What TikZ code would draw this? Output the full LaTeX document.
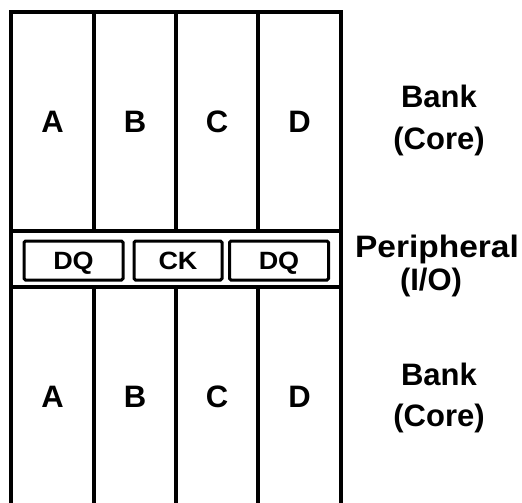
\documentclass[tikz,border=0pt]{standalone}
\usepackage{graphicx}
\usepackage{fontspec}
\setmainfont{Liberation Sans}
\begin{document}
\begin{tikzpicture}[x=1pt,y=-1pt,
  wall/.style={line width=4.5pt, line join=miter},
  padbox/.style={draw, line width=3pt, rounded corners=1.5pt, minimum width=99pt, minimum height=39pt, inner sep=0pt,
    text height=18pt, text depth=0pt, font=\fontsize{25}{30}\selectfont\bfseries},
  colletter/.style={anchor=base, inner sep=0pt, font=\fontsize{31}{36}\selectfont\bfseries},
  sidelabel/.style={anchor=base, inner sep=0pt, font=\fontsize{31}{36}\selectfont\bfseries}]
  \useasboundingbox (0,0) rectangle (522,503);

  % column edges and band edges
  \coordinate (tl) at (11,12);
  \coordinate (tr) at (341,12);
  \coordinate (bl) at (11,503);
  \coordinate (br) at (341,503);
  \draw[wall] (bl) -- (tl) -- (tr) -- (br);
  \foreach \x in {94,176,258} {
    \draw[wall] (\x,12) -- (\x,231);
    \draw[wall] (\x,287) -- (\x,503);
  }
  \draw[wall] (11,231) -- (341,231);
  \draw[wall] (11,287) -- (341,287);

  % bank columns
  \node[colletter] (a1) at (52.5,132) {A};
  \node[colletter] (b1) at (135,132) {B};
  \node[colletter] (c1) at (217,132) {C};
  \node[colletter] (d1) at (299.5,132) {D};
  \node[colletter] (a2) at (52.5,407) {A};
  \node[colletter] (b2) at (135,407) {B};
  \node[colletter] (c2) at (217,407) {C};
  \node[colletter] (d2) at (299.5,407) {D};

  % peripheral pads
  \node[padbox] (dq1) at (73.5,260.5) {\scalebox{1.08}[1]{DQ}};
  \node[padbox, minimum width=88pt] (ck) at (178,260.5) {\scalebox{1.08}[1]{CK}};
  \node[padbox] (dq2) at (279,260.5) {\scalebox{1.08}[1]{DQ}};

  % side labels
  \node[sidelabel] (bank1) at (439,107) {Bank};
  \node[sidelabel] (core1) at (439,149) {(Core)};
  \node[sidelabel] (periph) at (437,257) {\scalebox{1.08}[1]{Peripheral}};
  \node[sidelabel] (io) at (431,290) {(I/O)};
  \node[sidelabel] (bank2) at (439,385) {Bank};
  \node[sidelabel] (core2) at (439,426) {(Core)};
\end{tikzpicture}
\end{document}
